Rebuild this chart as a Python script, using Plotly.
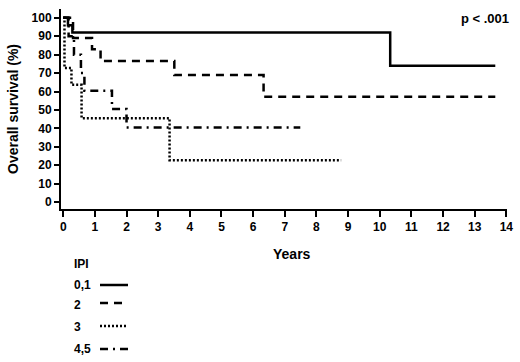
import plotly.graph_objects as go

# Kaplan-Meier step data (years, survival %)
ipi01_x = [0, 0.15, 0.29, 10.33, 13.65]
ipi01_y = [100, 96, 92.1, 74.0, 74.0]

ipi2_x = [0, 0.31, 0.91, 1.18, 3.51, 6.33, 13.65]
ipi2_y = [100, 89.0, 83.0, 76.5, 68.9, 57.1, 57.1]

ipi3_x = [0, 0.04, 0.26, 0.58, 3.36, 8.78]
ipi3_y = [100, 72.7, 63.6, 45.5, 22.7, 22.7]

ipi45_x = [0, 0.17, 0.34, 0.56, 0.67, 1.54, 2.0, 7.49]
ipi45_y = [100, 90, 80, 70, 60.4, 50.5, 40.5, 40.5]

legend_labels = ["0,1", "2", "3", "4,5"]
x_ticks = list(range(0, 15))
y_ticks = list(range(0, 101, 10))

FONT = "Liberation Sans, Arial, sans-serif"
series = [
    (ipi01_x, ipi01_y, "solid"),
    (ipi2_x, ipi2_y, "8px,6px"),
    (ipi3_x, ipi3_y, "2px,2px"),
    (ipi45_x, ipi45_y, "8px,5px,2px,5px"),
]

fig = go.Figure()
for (xs, ys, dash), name in zip(series, legend_labels):
    fig.add_trace(go.Scatter(
        x=xs, y=ys, mode="lines", name=name,
        line=dict(shape="hv", color="black", width=2.5, dash=dash),
        showlegend=False, hoverinfo="skip",
    ))

fig.update_layout(
    width=520, height=362,
    margin=dict(l=61, r=13, t=9, b=153, autoexpand=False),
    paper_bgcolor="white", plot_bgcolor="white",
    font=dict(family=FONT, color="black"),
)
fig.update_xaxes(
    range=[-0.07, 14.02], tickvals=x_ticks, showgrid=False, zeroline=False,
    showline=True, linecolor="black", linewidth=2,
    ticks="outside", ticklen=6, tickwidth=2, tickcolor="black",
    tickfont=dict(family=FONT, size=12, color="black", weight="bold"),
    automargin=False,
)
fig.update_yaxes(
    range=[-3.8, 104.8], tickvals=y_ticks, showgrid=False, zeroline=False,
    showline=True, linecolor="black", linewidth=2,
    ticks="outside", ticklen=5, tickwidth=2, tickcolor="black",
    tickfont=dict(family=FONT, size=12, color="black", weight="bold"),
    title=dict(text="<b>Overall survival (%)</b>", font=dict(size=14, family=FONT), standoff=10),
    automargin=False,
)

def px_x(px):
    return (px - 61) / 446.0

def px_y(py):
    return (209 - py) / 200.0

annos = [
    dict(text="<b>Years</b>", x=px_x(292), y=px_y(254), size=14, anchor="center"),
    dict(text="<b>p < .001</b>", x=px_x(485), y=px_y(18), size=13, anchor="center"),
    dict(text="<b>IPI</b>", x=px_x(72), y=px_y(264), size=12, anchor="left"),
]
legend_y = [285, 305, 327, 349]
line_y = [285, 303, 326, 349]
for lab, ty in zip(legend_labels, legend_y):
    annos.append(dict(text="<b>%s</b>" % lab, x=px_x(72), y=px_y(ty), size=12, anchor="left"))

for a in annos:
    fig.add_annotation(
        text=a["text"], x=a["x"], y=a["y"], xref="paper", yref="paper",
        xanchor=a["anchor"], yanchor="middle", showarrow=False,
        font=dict(family=FONT, size=a["size"], color="black"),
    )

for (_, _, dash), ly in zip(series, line_y):
    fig.add_shape(
        type="line", xref="paper", yref="paper",
        x0=px_x(100), x1=px_x(128), y0=px_y(ly), y1=px_y(ly),
        line=dict(color="black", width=2.5, dash=dash),
    )

fig.write_html(
    "out.html",
    config={"displayModeBar": False},
    post_script="document.body.style.margin='0px';document.body.style.overflow='hidden';",
)
